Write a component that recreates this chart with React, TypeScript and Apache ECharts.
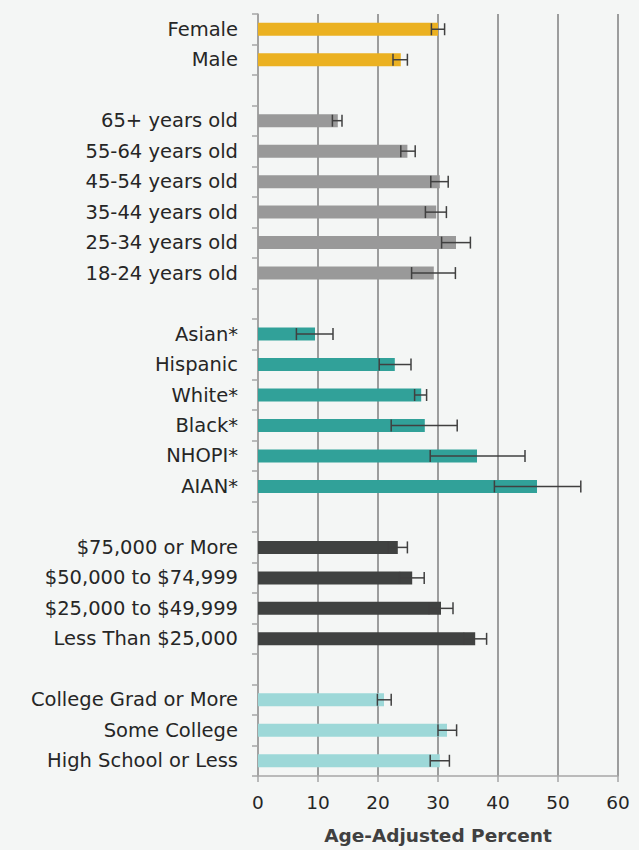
import React, { useEffect, useRef } from "react";
import * as echarts from "echarts";

const genderCats = ["Female", "Male"];
const genderVals = [30.0, 23.8];
const genderLow = [28.9, 22.5];
const genderHigh = [31.1, 24.9];

const ageCats = ["65+ years old", "55-64 years old", "45-54 years old", "35-44 years old", "25-34 years old", "18-24 years old"];
const ageVals = [13.3, 24.9, 30.3, 29.7, 33.0, 29.3];
const ageLow = [12.4, 23.8, 28.8, 27.9, 30.6, 25.6];
const ageHigh = [14.0, 26.2, 31.7, 31.4, 35.4, 32.9];

const raceCats = ["Asian*", "Hispanic", "White*", "Black*", "NHOPI*", "AIAN*"];
const raceVals = [9.5, 22.8, 27.2, 27.8, 36.5, 46.5];
const raceLow = [6.4, 20.2, 26.1, 22.2, 28.7, 39.4];
const raceHigh = [12.5, 25.5, 28.1, 33.2, 44.5, 53.8];

const incomeCats = ["$75,000 or More", "$50,000 to $74,999", "$25,000 to $49,999", "Less Than $25,000"];
const incomeVals = [23.3, 25.7, 30.5, 36.2];
const incomeLow = [21.7, 23.6, 28.5, 34.3];
const incomeHigh = [24.9, 27.7, 32.5, 38.1];

const eduCats = ["College Grad or More", "Some College", "High School or Less"];
const eduVals = [21.0, 31.5, 30.3];
const eduLow = [19.9, 30.0, 28.7];
const eduHigh = [22.2, 33.1, 31.9];

const groupColors = ["#EBB121", "#999999", "#31A199", "#404241", "#9DD8D8"];

const xTicks = [0, 10, 20, 30, 40, 50, 60];
const xTitle = "Age-Adjusted Percent";

const FONT = "DejaVu Sans";

export default function App() {
  const ref = useRef<HTMLDivElement>(null);

  useEffect(() => {
    if (!ref.current) return;
    const chart = echarts.init(ref.current, undefined, { renderer: "svg" });

    const groups = [
      { cats: genderCats, vals: genderVals, low: genderLow, high: genderHigh },
      { cats: ageCats, vals: ageVals, low: ageLow, high: ageHigh },
      { cats: raceCats, vals: raceVals, low: raceLow, high: raceHigh },
      { cats: incomeCats, vals: incomeVals, low: incomeLow, high: incomeHigh },
      { cats: eduCats, vals: eduVals, low: eduLow, high: eduHigh },
    ];

    const categories: string[] = [];
    const barData: any[] = [];
    const errData: any[] = [];
    groups.forEach((g, gi) => {
      if (gi > 0) {
        categories.push(" ".repeat(gi));
        barData.push(null);
      }
      g.cats.forEach((c, i) => {
        const idx = categories.length;
        categories.push(c);
        barData.push({ value: g.vals[i], itemStyle: { color: groupColors[gi] } });
        errData.push([g.low[i], g.high[i], idx]);
      });
    });

    chart.setOption({
      animation: false,
      backgroundColor: "#F4F6F5",
      grid: { left: 258, right: 21, top: 14, bottom: 73, containLabel: false },
      xAxis: {
        type: "value",
        min: xTicks[0],
        max: xTicks[xTicks.length - 1],
        interval: 10,
        axisLine: { show: true, lineStyle: { color: "#A6A6A6", width: 1.5 } },
        axisTick: { show: true, length: 6, lineStyle: { color: "#A6A6A6", width: 1.5 } },
        axisLabel: { color: "#262626", fontFamily: FONT, fontSize: 18.5, margin: 17 },
        splitLine: { show: true, lineStyle: { color: "#7F7F7F", width: 1.5 } },
        name: xTitle,
        nameLocation: "middle",
        nameGap: 50,
        nameTextStyle: { color: "#404040", fontFamily: FONT, fontSize: 18.5, fontWeight: "bold" },
      },
      yAxis: {
        type: "category",
        inverse: true,
        data: categories,
        axisLine: { show: true, lineStyle: { color: "#A6A6A6", width: 1.5 } },
        axisTick: { show: true, length: 6, lineStyle: { color: "#A6A6A6", width: 1.5 } },
        axisLabel: { color: "#262626", fontFamily: FONT, fontSize: 19.5, margin: 20 },
        splitLine: { show: false },
      },
      series: [
        {
          type: "bar",
          data: barData,
          barWidth: 13,
          z: 2,
        },
        {
          type: "custom",
          z: 3,
          data: errData,
          encode: { x: [0, 1], y: 2 },
          renderItem: (params: any, api: any) => {
            const lo = api.coord([api.value(0), api.value(2)]);
            const hi = api.coord([api.value(1), api.value(2)]);
            const h = 6;
            const style = { stroke: "#404040", lineWidth: 1.5 };
            return {
              type: "group",
              children: [
                { type: "line", shape: { x1: lo[0], y1: lo[1], x2: hi[0], y2: hi[1] }, style },
                { type: "line", shape: { x1: lo[0], y1: lo[1] - h, x2: lo[0], y2: lo[1] + h }, style },
                { type: "line", shape: { x1: hi[0], y1: hi[1] - h, x2: hi[0], y2: hi[1] + h }, style },
              ],
            };
          },
        },
      ],
    });

    return () => chart.dispose();
  }, []);

  return (
    <div
      ref={ref}
      style={{ position: "fixed", left: 0, top: 0, width: 639, height: 850 }}
    />
  );
}
